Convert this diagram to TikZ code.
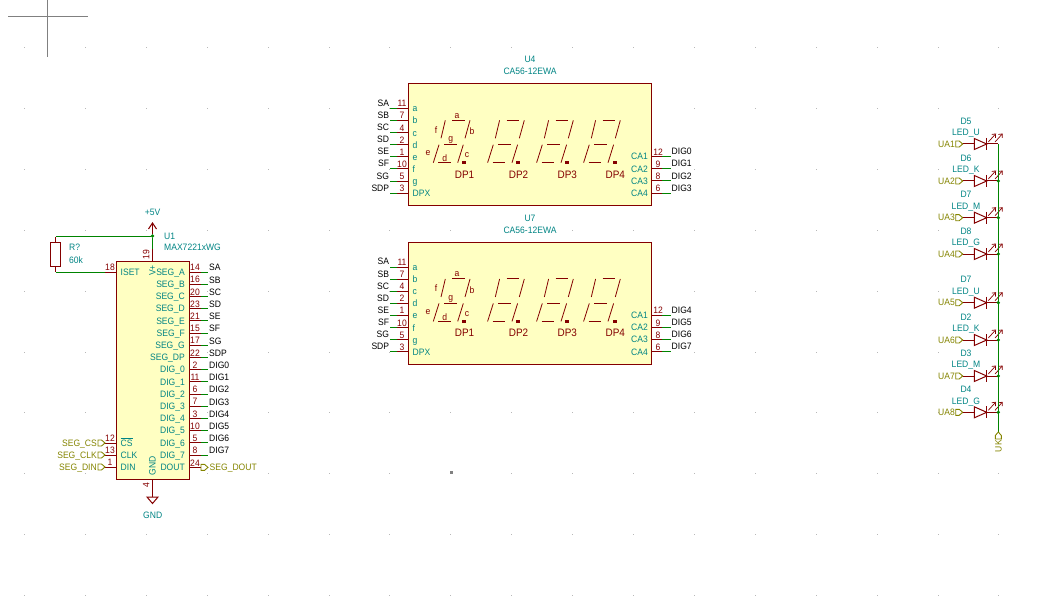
\documentclass[tikz,border=0pt]{standalone}
\usepackage{fontspec}
\usetikzlibrary{arrows.meta}
\setmainfont[FakeStretch=0.92]{Liberation Sans}
\definecolor{symred}{HTML}{840000}
\definecolor{symfill}{HTML}{FFFFC2}
\definecolor{pincyan}{HTML}{008484}
\definecolor{wiregreen}{HTML}{008400}
\definecolor{flagolive}{HTML}{848400}
\definecolor{griddot}{HTML}{B8B8B8}
\begin{document}
\begin{tikzpicture}[x=1pt,y=-1pt,%
% common options for symbols and lines:
part/.style = {draw=symred, fill=symfill, line width=1pt, inner sep=0, anchor=north west},
pinline/.style = {draw=symred, line width=1pt},
wire/.style = {draw=wiregreen, line width=1pt},
flagline/.style = {draw=flagolive, line width=0.9pt},
junction/.style = {circle, fill=wiregreen, inner sep=0, minimum size=3.6pt},
% common options for texts:
tag/.style = {inner sep=0, text height=6.5pt, text depth=0pt, font=\fontsize{9.3}{10}\selectfont},
pinnum/.style = {tag, text=symred},
pinname/.style = {tag, text=pincyan},
netname/.style = {tag, text=black},
flagname/.style = {tag, text=flagolive},
dpname/.style = {tag, text=symred, font=\fontsize{10.8}{11}\selectfont},
flag/.pic = {\draw[flagline] (0,-3) -- (3.5,-3) -- (7,0) -- (3.5,3) -- (0,3) -- cycle;}]
\useasboundingbox (0,0) rectangle (1049,604);
% sheet grid and cross
\foreach \col in {0,...,16} \foreach \row in {0,...,9}
  \fill[griddot] ({24+60.9*\col},{47+60.9*\row}) rectangle ++(1,1);
\fill[gray] (450,471) rectangle ++(3,3);
\draw[gray, line width=1pt] (8,16.3) -- (88,16.3);
\draw[gray, line width=1pt] (47.3,0) -- (47.3,57);
% U1
\node[part, minimum width=73pt, minimum height=218.3pt] (U1) at (116.2,260.7) {};
\node[pinname, anchor=west] (U1ref) at (164,236) {U1};
\node[pinname, anchor=west] (U1val) at (164,247.7) {MAX7221xWG};
\foreach \i/\num/\pname/\net in {0/14/SEG\_A/SA,1/16/SEG\_B/SB,2/20/SEG\_C/SC,3/23/SEG\_D/SD,4/21/SEG\_E/SE,5/15/SEG\_F/SF,6/17/SEG\_G/SG,7/22/SEG\_DP/SDP,8/2/DIG\_0/DIG0,9/11/DIG\_1/DIG1,10/6/DIG\_2/DIG2,11/7/DIG\_3/DIG3,12/3/DIG\_4/DIG4,13/10/DIG\_5/DIG5,14/5/DIG\_6/DIG6,15/8/DIG\_7/DIG7} {
  \coordinate (U1r\i) at (189.2,{272+12.2*\i});
  \coordinate (U1p\i) at (201,{272+12.2*\i});
  \coordinate (U1w\i) at (208,{272+12.2*\i});
  \draw[pinline] (U1r\i) -- (U1p\i);
  \draw[wire] (U1p\i) -- (U1w\i);
  \node[pinnum] (U1n\i) at (195,{267.5+12.2*\i}) {\num};
  \node[pinname, anchor=east] (U1t\i) at (185,{272+12.2*\i}) {\pname};
  \node[netname, anchor=west] (U1l\i) at (209,{267.7+12.2*\i}) {\net};
}
% U1 left pins
\foreach \tagname/\py/\num/\pname/\net in {cs/443/12/$\overline{\mbox{CS}}$/SEG\_CS,clk/455/13/CLK/SEG\_CLK,din/467/1/DIN/SEG\_DIN} {
  \coordinate (U1\tagname) at (116.2,\py);
  \coordinate (F\tagname) at (105,\py);
  \draw[pinline] (U1\tagname) -- (F\tagname);
  \pic at (98,\py) {flag};
  \node[pinnum] (N\tagname) at (110,{\py-4.6}) {\num};
  \node[pinname, anchor=west] (T\tagname) at (120.5,\py) {\pname};
  \node[flagname, anchor=east] (L\tagname) at (97,\py) {\net};
}
% DOUT
\coordinate (U1dout) at (189.2,467.4);
\coordinate (Fdout) at (201,467.4);
\draw[pinline] (U1dout) -- (Fdout);
\pic at (201,467.4) {flag};
\node[pinnum] (Ndout) at (195,462.8) {24};
\node[pinname, anchor=east] (Tdout) at (185,467.4) {DOUT};
\node[flagname, anchor=west] (Ldout) at (209.5,467.4) {SEG\_DOUT};
% ISET and resistor
\coordinate (U1iset) at (116.2,272);
\coordinate (Wiset) at (105,272);
\draw[pinline] (U1iset) -- (Wiset);
\node[pinnum] (Niset) at (110,267.6) {18};
\node[pinname, anchor=west] (Tiset) at (120.5,272) {ISET};
\node[part, anchor=center, fill=none, minimum width=10pt, minimum height=24pt] (R1) at (55.7,254) {};
\node[pinname, anchor=west] (R1ref) at (69,247.7) {R?};
\node[pinname, anchor=west] (R1val) at (69,260) {60k};
\coordinate (R1t) at (55.7,236);
\coordinate (R1b) at (55.7,272);
\draw[pinline] (R1.north) -- (55.7,236.5);
\draw[pinline] (R1.south) -- (55.7,271.5);
\draw[wire] (R1b) -- (Wiset);
% supply
\node[junction] (J5V) at (152.5,236) {};
\draw[wire] (R1t) -- (J5V);
\coordinate (U1vcc) at (152.5,260.7);
\coordinate (Pvcc) at (152.5,249);
\draw[pinline] (U1vcc) -- (Pvcc);
\draw[wire] (Pvcc) -- (J5V);
\coordinate (Tip5V) at (152.5,223);
\draw[pinline] (J5V) -- (Tip5V);
\draw[pinline] (148.5,229) -- (Tip5V) -- (156.5,229);
\node[pinname] (L5V) at (152.7,212) {+5V};
\node[pinnum, rotate=90] (Nvcc) at (146,254.5) {19};
\node[pinname, rotate=90] (Tvcc) at (152.3,270.5) {V+};
\coordinate (U1gnd) at (152.5,479);
\coordinate (Sgnd) at (152.5,497);
\draw[pinline] (U1gnd) -- (Sgnd);
\draw[pinline] (147,497) -- (158,497) -- (152.5,503.5) -- cycle;
\node[pinnum, rotate=90] (Ngnd) at (146,485) {4};
\node[pinname, rotate=90] (Tgnd) at (152.3,465.7) {GND};
\node[pinname] (Lgnd) at (152.7,515.7) {GND};
% the two displays
\foreach \disp/\dy/\first in {U4/0/0,U7/158.7/4} {
  \node[part, minimum width=243pt, minimum height=121.7pt] (\disp) at (408.3,{83.3+\dy}) {};
  \node[pinname] (\disp ref) at (530,{59.3+\dy}) {\disp};
  \node[pinname] (\disp val) at (530,{71.7+\dy}) {CA56-12EWA};
  \foreach \i/\num/\pname/\net in {0/11/a/SA,1/7/b/SB,2/4/c/SC,3/2/d/SD,4/1/e/SE,5/10/f/SF,6/5/g/SG,7/3/DPX/SDP} {
    \coordinate (\disp l\i) at (408.3,{108.3+12.13*\i+\dy});
    \coordinate (\disp p\i) at (396.7,{108.3+12.13*\i+\dy});
    \coordinate (\disp w\i) at (390,{108.3+12.13*\i+\dy});
    \draw[pinline] (\disp l\i) -- (\disp p\i);
    \draw[wire] (\disp p\i) -- (\disp w\i);
    \node[pinnum] (\disp n\i) at (402,{103.5+12.13*\i+\dy}) {\num};
    \node[pinname, anchor=west] (\disp t\i) at (412.5,{108.5+12.13*\i+\dy}) {\pname};
    \node[netname, anchor=east] (\disp s\i) at (389.3,{103+12.13*\i+\dy}) {\net};
  }
  \foreach \i/\num in {0/12,1/9,2/8,3/6} {
    \pgfmathtruncatemacro{\dignum}{\first+\i}
    \pgfmathtruncatemacro{\caname}{\i+1}
    \coordinate (\disp r\i) at (651.3,{156.7+12.13*\i+\dy});
    \coordinate (\disp q\i) at (661.5,{156.7+12.13*\i+\dy});
    \coordinate (\disp x\i) at (671,{156.7+12.13*\i+\dy});
    \draw[pinline] (\disp r\i) -- (\disp q\i);
    \draw[wire] (\disp q\i) -- (\disp x\i);
    \node[pinnum] (\disp m\i) at (658,{152+12.13*\i+\dy}) {\num};
    \node[pinname, anchor=east] (\disp c\i) at (648,{156.7+12.13*\i+\dy}) {CA\caname};
    \node[netname, anchor=west] (\disp d\i) at (671.5,{151.5+12.13*\i+\dy}) {DIG\dignum};
  }
  % digits
  \foreach \dx/\dpdx/\dptext in {0/0/DP1,54.3/54/DP2,103.3/102.7/DP3,150.3/150.7/DP4} {
    \begin{scope}[shift={(\dx,\dy)}]
      \draw[pinline, line width=0.8pt] (452.3,120) -- (465,120);
      \draw[pinline, line width=0.8pt] (445.3,120.3) -- (441,138.3);
      \draw[pinline, line width=0.8pt] (470,120.3) -- (465,138.3);
      \draw[pinline, line width=0.8pt] (444,144.7) -- (456.7,144.7);
      \draw[pinline, line width=0.8pt] (439,144.7) -- (433.3,162.7);
      \draw[pinline, line width=0.8pt] (463.3,144.7) -- (457.7,162.7);
      \draw[pinline, line width=0.8pt] (438.3,162.7) -- (450.7,162.7);
    \end{scope}
    \fill[symred] ({464+\dpdx-1.8},{162.7+\dy-1.8}) rectangle ++(3.6,3.6);
    \node[dpname] at ({464.6+\dpdx},{175+\dy}) {\dptext};
  }
  \node[pinnum] at (457,{115+\dy}) {a};
  \node[pinnum] at (472,{131.7+\dy}) {b};
  \node[pinnum] at (467,{154.3+\dy}) {c};
  \node[pinnum] at (444.7,{158.7+\dy}) {d};
  \node[pinnum] at (428,{152.3+\dy}) {e};
  \node[pinnum] at (436,{130+\dy}) {f};
  \node[pinnum] at (450.7,{138.3+\dy}) {g};
}
% LED column
\foreach \i/\ly/\dref/\val in {1/144/D5/LED\_U,2/181/D6/LED\_K,3/217.7/D7/LED\_M,4/254/D8/LED\_G,5/302.7/D7/LED\_U,6/340/D2/LED\_K,7/376/D3/LED\_M,8/412.3/D4/LED\_G} {
  \coordinate (LEDin\i) at (962.7,\ly);
  \coordinate (LEDa\i) at (974.3,\ly);
  \coordinate (LEDk\i) at (986.7,\ly);
  \coordinate (Bus\i) at (998.3,\ly);
  \pic at (955.7,\ly) {flag};
  \node[flagname, anchor=east] (UA\i) at (955,\ly) {UA\i};
  \draw[pinline] (LEDin\i) -- (LEDa\i);
  \draw[pinline] (LEDk\i) -- (Bus\i);
  \draw[pinline] (974.3,{\ly-5.5}) -- (986.7,\ly) -- (974.3,{\ly+5.5}) -- cycle;
  \draw[pinline] (986.7,{\ly-6}) -- (986.7,{\ly+6});
  \draw[symred, line width=0.7pt, -{Straight Barb[length=3pt,width=5pt]}] (988.3,{\ly-2}) -- (996,{\ly-10.5});
  \draw[symred, line width=0.7pt, -{Straight Barb[length=3pt,width=5pt]}] (995,{\ly-2}) -- (1002.7,{\ly-10.5});
  \node[pinname] (LEDref\i) at (966,{\ly-23}) {\dref};
  \node[pinname] (LEDval\i) at (966,{\ly-11.5}) {\val};
}
\coordinate (BusEnd) at (998.3,432);
\draw[wire] (Bus1) -- (BusEnd);
\foreach \i in {2,...,8} \node[junction] at (Bus\i) {};
\draw[flagline] (998.3,432) -- (1001.3,435.5) -- (1001.3,439) -- (995.3,439) -- (995.3,435.5) -- cycle;
\node[flagname, rotate=90, anchor=east] (UK) at (998.3,440) {UK};
\end{tikzpicture}
\end{document}
